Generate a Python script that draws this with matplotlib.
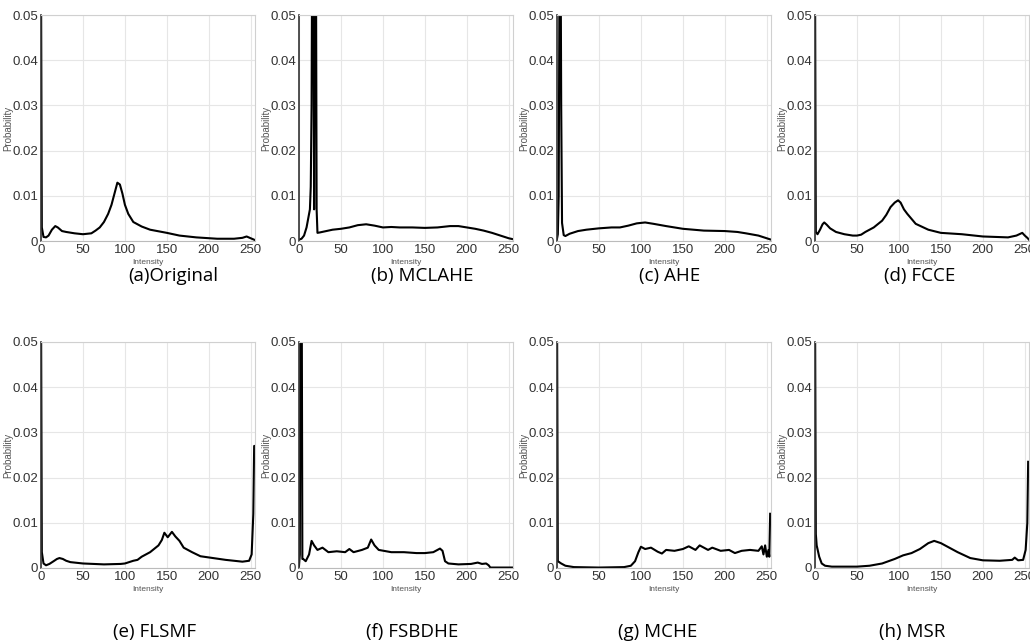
import numpy as np
import matplotlib.pyplot as plt

# Histogramas (probabilidad vs intensidad)
titulos = ['(a)Original', '(b) MCLAHE', '(c) AHE', '(d) FCCE',
           '(e) FLSMF', '(f) FSBDHE', '(g) MCHE', '(h) MSR']

x_a = [0, 1, 3, 6, 9, 13, 17, 20, 25, 30, 40, 50, 60, 65, 70, 75, 80, 84, 88, 91, 94, 97,
       100, 104, 110, 120, 130, 150, 165, 185, 210, 230, 240, 245, 250, 255]
y_a = [0.06, 0.003, 0.0009, 0.0008, 0.0012, 0.0025, 0.0033, 0.003, 0.0022, 0.002, 0.0017,
       0.0015, 0.0017, 0.0023, 0.003, 0.0042, 0.006, 0.008, 0.0108, 0.0129, 0.0125, 0.0105,
       0.008, 0.006, 0.0042, 0.0032, 0.0025, 0.0018, 0.0012, 0.0008, 0.0005, 0.0005, 0.0007,
       0.001, 0.0006, 0.0002]

x_b = [0, 3, 6, 9, 11, 13, 14, 15, 16, 17, 18, 19, 20, 21, 22, 25, 30, 40, 50, 60, 70, 80, 90,
       100, 110, 120, 135, 150, 165, 180, 190, 200, 210, 220, 230, 240, 250, 255]
y_b = [0.0003, 0.0005, 0.0012, 0.003, 0.005, 0.007, 0.012, 0.03, 0.08, 0.075, 0.007, 0.08,
       0.08, 0.007, 0.0018, 0.0019, 0.0021, 0.0025, 0.0027, 0.003, 0.0035, 0.0037, 0.0034,
       0.003, 0.0031, 0.003, 0.003, 0.0029, 0.003, 0.0033, 0.0033, 0.003, 0.0027, 0.0023,
       0.0018, 0.0012, 0.0006, 0.0004]

x_c = [0, 1, 2, 3, 4, 5, 6, 8, 10, 15, 25, 35, 50, 65, 75, 85, 95, 105, 115, 130, 150, 175,
       200, 215, 225, 240, 255]
y_c = [0.0005, 0.0015, 0.01, 0.06, 0.08, 0.03, 0.004, 0.0013, 0.0011, 0.0016, 0.0022, 0.0025,
       0.0028, 0.003, 0.003, 0.0034, 0.0039, 0.0041, 0.0038, 0.0033, 0.0027, 0.0023, 0.0022,
       0.002, 0.0017, 0.0012, 0.0003]

x_d = [0, 1, 3, 6, 9, 11, 14, 18, 25, 35, 45, 50, 55, 60, 70, 80, 85, 90, 95, 99, 102, 106,
       110, 120, 135, 150, 175, 200, 230, 240, 247, 250, 253, 255]
y_d = [0.06, 0.002, 0.0015, 0.0025, 0.0037, 0.0041, 0.0036, 0.0028, 0.002, 0.0015, 0.0012,
       0.0012, 0.0014, 0.002, 0.003, 0.0045, 0.0058, 0.0075, 0.0085, 0.009, 0.0085, 0.007,
       0.006, 0.0038, 0.0025, 0.0018, 0.0015, 0.001, 0.0008, 0.0012, 0.0018, 0.0012, 0.0007,
       0.0003]

x_e = [0, 1, 3, 6, 10, 15, 19, 22, 26, 30, 35, 50, 75, 95, 100, 110, 115, 120, 130, 140, 144,
       147, 151, 156, 160, 165, 170, 180, 190, 205, 220, 240, 248, 251, 253, 254, 255]
y_e = [0.06, 0.0035, 0.001, 0.0006, 0.0009, 0.0015, 0.002, 0.0022, 0.002, 0.0016, 0.0013,
       0.001, 0.0008, 0.0009, 0.001, 0.0016, 0.0018, 0.0025, 0.0035, 0.005, 0.0062, 0.0078,
       0.0068, 0.008, 0.007, 0.006, 0.0045, 0.0035, 0.0026, 0.0022, 0.0018, 0.0014, 0.0016,
       0.003, 0.012, 0.027, 0.027]

x_f = [0, 1, 2, 3, 4, 5, 8, 12, 15, 18, 22, 28, 35, 45, 55, 60, 65, 75, 82, 86, 90, 95, 110,
       125, 140, 150, 160, 168, 171, 174, 178, 190, 205, 213, 218, 223, 226, 228, 255]
y_f = [0.0005, 0.003, 0.08, 0.08, 0.002, 0.002, 0.0015, 0.003, 0.006, 0.005, 0.004, 0.0045,
       0.0035, 0.0037, 0.0035, 0.0042, 0.0035, 0.004, 0.0045, 0.0063, 0.005, 0.004, 0.0035,
       0.0035, 0.0033, 0.0033, 0.0035, 0.0043, 0.0038, 0.0015, 0.001, 0.0008, 0.0009,
       0.0012, 0.0009, 0.001, 0.0006, 0.0001, 0.0001]

x_g = [0, 1, 5, 10, 20, 50, 80, 88, 93, 97, 100, 105, 112, 120, 125, 130, 140, 150, 157, 165,
       170, 180, 185, 195, 205, 212, 220, 230, 240, 244, 246, 248, 250, 252, 253, 254]
y_g = [0.06, 0.0015, 0.001, 0.0005, 0.0002, 0.0001, 0.0002, 0.0005, 0.0015, 0.0035, 0.0047,
       0.0042, 0.0045, 0.0036, 0.0032, 0.004, 0.0038, 0.0042, 0.0048, 0.004, 0.005, 0.004,
       0.0045, 0.0038, 0.004, 0.0033, 0.0038, 0.004, 0.0038, 0.0048, 0.003, 0.005, 0.0025,
       0.004, 0.0025, 0.012]

x_h = [0, 1, 2, 5, 8, 12, 20, 35, 50, 65, 80, 95, 105, 115, 125, 135, 142, 150, 160, 170, 185,
       200, 220, 235, 238, 242, 248, 251, 253, 254]
y_h = [0.06, 0.0075, 0.005, 0.0025, 0.001, 0.0005, 0.0003, 0.0003, 0.0003, 0.0005, 0.001,
       0.002, 0.0028, 0.0033, 0.0042, 0.0055, 0.006, 0.0055, 0.0045, 0.0035, 0.0022, 0.0017,
       0.0016, 0.0018, 0.0023, 0.0017, 0.0018, 0.004, 0.01, 0.0235]

xs = [x_a, x_b, x_c, x_d, x_e, x_f, x_g, x_h]
ys = [y_a, y_b, y_c, y_d, y_e, y_f, y_g, y_h]

plt.rcParams['font.family'] = ['Liberation Sans', 'DejaVu Sans']

fig = plt.figure(figsize=(10.3, 6.44), dpi=100)

lefts = [41, 299, 557, 815]
tops = [15, 342]
ancho, alto = 214, 226
# centros de los pies de figura (pixeles)
pie_x = [173, 422, 670, 920, 155, 412, 658, 912]
pie_y = [276, 632]

for i in range(8):
    fila, col = divmod(i, 4)
    ax = fig.add_axes([lefts[col] / 1030, 1 - (tops[fila] + alto) / 644, ancho / 1030, alto / 644])
    ax.plot(xs[i], ys[i], color='black', linewidth=1.5)
    ax.set_xlim(0, 255)
    ax.set_ylim(0, 0.05)
    ax.set_xticks([0, 50, 100, 150, 200, 250])
    ax.set_yticks([0, 0.01, 0.02, 0.03, 0.04, 0.05])
    ax.set_yticklabels(['0', '0.01', '0.02', '0.03', '0.04', '0.05'])
    ax.tick_params(labelsize=9.5, length=0, pad=2, colors='#333333')
    ax.grid(True, color='#e6e6e6', linewidth=0.8)
    for lado in ['top', 'right']:
        ax.spines[lado].set_color('#d0d0d0')
        ax.spines[lado].set_linewidth(0.8)
    ax.spines['left'].set_color('#333333')
    ax.spines['left'].set_linewidth(1.2)
    ax.spines['bottom'].set_color('#bbbbbb')
    ax.spines['bottom'].set_linewidth(0.8)
    ax.set_xlabel('Intensity', fontsize=6, color='#555555', labelpad=2)
    ax.set_ylabel('Probability', fontsize=7, color='#555555', labelpad=-1)
    # Pie de cada gráfica
    fig.text(pie_x[i] / 1030, 1 - pie_y[fila] / 644, titulos[i],
             ha='center', va='center', fontsize=13.5, family='Open Sans', color='black')

fig.savefig('out.png', dpi=100)
